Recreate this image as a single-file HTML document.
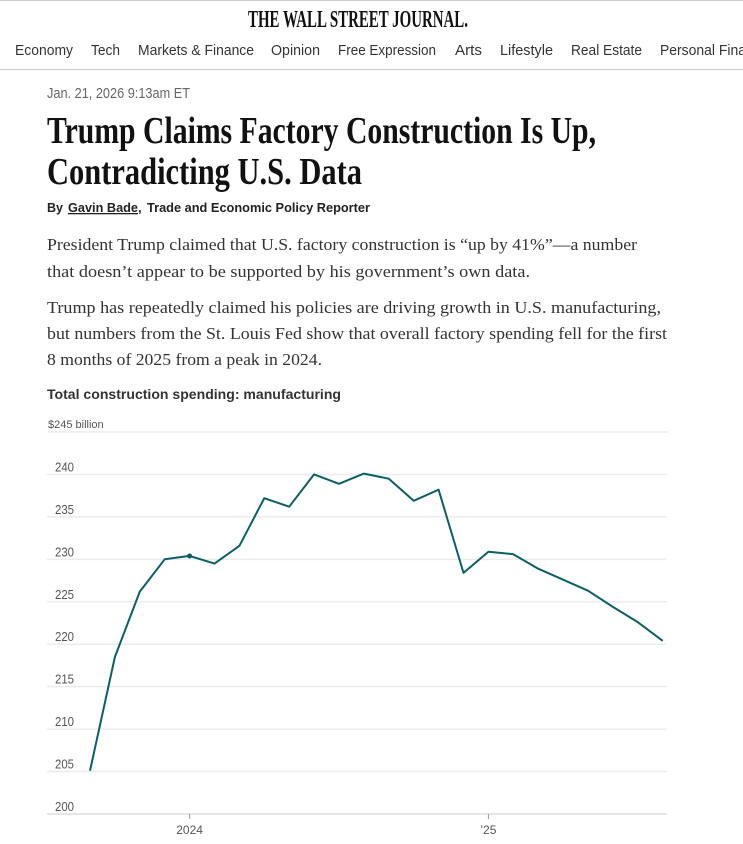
<!DOCTYPE html>
<html><head><meta charset="utf-8"><style>
html,body{margin:0;padding:0;background:#fff;}
svg{display:block;}
</style></head><body>
<svg id="page" width="743" height="844" viewBox="0 0 743 844" xmlns="http://www.w3.org/2000/svg">
<line x1="0" y1="0.5" x2="743" y2="0.5" stroke="#ccc"/>
<text x="248" y="27" textLength="220" lengthAdjust="spacingAndGlyphs" font-family="Liberation Serif, serif" font-weight="bold" font-size="24" fill="#111">THE WALL STREET JOURNAL.</text>
<g font-family="Liberation Sans, sans-serif" font-size="15" fill="#333">
<text x="15" y="55" textLength="58" lengthAdjust="spacingAndGlyphs">Economy</text>
<text x="91" y="55" textLength="29" lengthAdjust="spacingAndGlyphs">Tech</text>
<text x="138" y="55" textLength="116" lengthAdjust="spacingAndGlyphs">Markets &amp; Finance</text>
<text x="271" y="55" textLength="49" lengthAdjust="spacingAndGlyphs">Opinion</text>
<text x="338" y="55" textLength="98" lengthAdjust="spacingAndGlyphs">Free Expression</text>
<text x="455" y="55" textLength="27" lengthAdjust="spacingAndGlyphs">Arts</text>
<text x="500" y="55" textLength="53" lengthAdjust="spacingAndGlyphs">Lifestyle</text>
<text x="571" y="55" textLength="71" lengthAdjust="spacingAndGlyphs">Real Estate</text>
<text x="660" y="55" textLength="86" lengthAdjust="spacingAndGlyphs">Personal Fina</text>
</g>
<line x1="0" y1="69.5" x2="743" y2="69.5" stroke="#ccc"/>
<text x="47" y="98" textLength="143" lengthAdjust="spacingAndGlyphs" font-family="Liberation Sans, sans-serif" font-size="15" fill="#666">Jan. 21, 2026 9:13am ET</text>
<g font-family="Liberation Serif, serif" font-weight="bold" font-size="38" fill="#111">
<text x="47" y="143" textLength="549" lengthAdjust="spacingAndGlyphs">Trump Claims Factory Construction Is Up,</text>
<text x="47" y="184" textLength="315" lengthAdjust="spacingAndGlyphs">Contradicting U.S. Data</text>
</g>
<g font-family="Liberation Sans, sans-serif" font-weight="bold" font-size="13" fill="#222">
<text x="47" y="212" textLength="16" lengthAdjust="spacingAndGlyphs">By</text>
<text x="68" y="212" textLength="70" lengthAdjust="spacingAndGlyphs" text-decoration="underline">Gavin Bade</text>
<text x="138" y="212">,</text>
<text x="147" y="212" textLength="223" lengthAdjust="spacingAndGlyphs">Trade and Economic Policy Reporter</text>
</g>
<g font-family="Liberation Serif, serif" font-size="17" fill="#333">
<text x="47" y="250" textLength="590" lengthAdjust="spacingAndGlyphs">President Trump claimed that U.S. factory construction is “up by 41%”—a number</text>
<text x="47" y="277" textLength="483" lengthAdjust="spacingAndGlyphs">that doesn’t appear to be supported by his government’s own data.</text>
<text x="47" y="313" textLength="614" lengthAdjust="spacingAndGlyphs">Trump has repeatedly claimed his policies are driving growth in U.S. manufacturing,</text>
<text x="47" y="339" textLength="620" lengthAdjust="spacingAndGlyphs">but numbers from the St. Louis Fed show that overall factory spending fell for the first</text>
<text x="47" y="365" textLength="275" lengthAdjust="spacingAndGlyphs">8 months of 2025 from a peak in 2024.</text>
</g>
<text x="47" y="399" textLength="294" lengthAdjust="spacingAndGlyphs" font-family="Liberation Sans, sans-serif" font-weight="bold" font-size="14" fill="#333">Total construction spending: manufacturing</text>
<g id="chart"></g>
</svg>
<script>
const months = ["2023-09","2023-10","2023-11","2023-12","2024-01","2024-02","2024-03","2024-04","2024-05","2024-06","2024-07","2024-08","2024-09","2024-10","2024-11","2024-12","2025-01","2025-02","2025-03","2025-04","2025-05","2025-06","2025-07","2025-08"];
const spending = [205.1,218.5,226.2,230.0,230.4,229.5,231.6,237.2,236.2,240.0,238.9,240.1,239.5,236.9,238.2,228.4,230.9,230.6,228.9,227.6,226.3,224.4,222.6,220.4];
const yTicks = [200,205,210,215,220,225,230,235,240,245];
const yTickLabels = ["200","205","210","215","220","225","230","235","240","$245 billion"];
const xTickIndex = [4,16];
const xTickLabels = ["2024","’25"];
const markedIndex = 4;

const NS="http://www.w3.org/2000/svg";
const g=document.getElementById('chart');
const x0=90, dx=24.9, yBase=814, pxPerUnit=(814-432)/45;
function xs(i){return x0+i*dx;}
function ys(v){return yBase-(v-200)*pxPerUnit;}
function mk(tag,attrs){const e=document.createElementNS(NS,tag);for(const k in attrs)e.setAttribute(k,attrs[k]);g.appendChild(e);return e;}
yTicks.forEach((t,i)=>{
  const y=ys(t);
  const top=i===yTicks.length-1;
  const l=mk('line',{x1:47,x2:667,y1:y,y2:y,stroke:i===0?'#ddd':'#ececec','stroke-width':1.5});
  
  
  const tx=mk('text',{x:top?48:55,y:y-(top?4:3),'font-family':'Liberation Sans, sans-serif','font-size':top?11:13,fill:'#555'});
  if(!top){tx.setAttribute('textLength','19');tx.setAttribute('lengthAdjust','spacingAndGlyphs');}
  tx.textContent=yTickLabels[i];
  
  
});
xTickIndex.forEach((idx,i)=>{
  const x=xs(idx);
  const l=mk('line',{x1:x,x2:x,y1:814,y2:819,stroke:'#999'});
  
  
  const t=mk('text',{x:x,y:834,'text-anchor':'middle','font-family':'Liberation Sans, sans-serif','font-size':12,fill:'#555'});
  t.textContent=xTickLabels[i];
  
  
});
const pts=spending.map((v,i)=>xs(i).toFixed(1)+','+ys(v).toFixed(1)).join(' ');
const pl=mk('polyline',{points:pts,fill:'none',stroke:'#0c5f66','stroke-width':2,'stroke-linejoin':'round'});


const dot=mk('circle',{cx:xs(markedIndex),cy:ys(spending[markedIndex]),r:2.5,fill:'#0c5f66'});


</script>
</body></html>
